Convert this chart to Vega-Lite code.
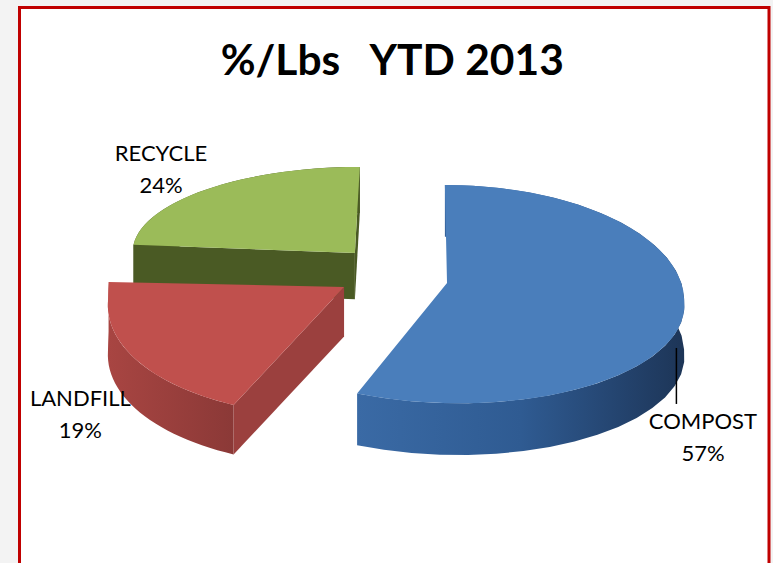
{
  "$schema": "https://vega.github.io/schema/vega-lite/v6.json",
  "autosize": {"type": "fit", "contains": "padding"},
  "width": 773,
  "height": 563,
  "padding": {"left": 19.5, "top": 7.5, "right": 4, "bottom": -2},
  "background": "#f3f3f3",
  "title": {
    "text": "%/Lbs\u00a0\u00a0\u00a0YTD 2013",
    "font": "Lato",
    "fontSize": 42.5,
    "fontWeight": "bold",
    "color": "#000000",
    "anchor": "middle",
    "frame": "group",
    "offset": -76,
    "dx": -2
  },
  "view": {"fill": "#ffffff", "stroke": "#c00000", "strokeWidth": 3},
  "data": {
    "values": [
      {"name": "COMPOST", "value": 57},
      {"name": "LANDFILL", "value": 19},
      {"name": "RECYCLE", "value": 24}
    ]
  },
  "transform": [
    {"stack": "value", "groupby": [], "sort": [{"field": "name", "order": "ascending"}], "as": ["t0", "t1"]},
    {"calculate": "datum.t0 / 100 * 2 * PI", "as": "a0"},
    {"calculate": "datum.t1 / 100 * 2 * PI", "as": "a1"},
    {"calculate": "datum.name == 'COMPOST' ? 0.115 : datum.name == 'LANDFILL' ? -0.323 : -0.277", "as": "cx"},
    {"calculate": "datum.name == 'COMPOST' ? 0.064 : datum.name == 'LANDFILL' ? 0.027 : 0.336", "as": "apexV"},
    {"calculate": "datum.name == 'COMPOST' ? -0.09 : datum.name == 'LANDFILL' ? -0.09 : 0.364", "as": "cy"},
    {"calculate": "datum.name == 'COMPOST' ? 1.009 : datum.name == 'LANDFILL' ? 1.004 : 0.945", "as": "rx"},
    {"calculate": "datum.name == 'COMPOST' ? 1.045 : datum.name == 'LANDFILL' ? 2.6 : 0.755", "as": "ryUp"},
    {"calculate": "datum.name == 'COMPOST' ? 0.94 : datum.name == 'LANDFILL' ? 1.055 : 1", "as": "ryDown"},
    {"calculate": "datum.name == 'COMPOST' ? -0.009 : datum.name == 'RECYCLE' ? 0.021 : 0", "as": "leanUp"},
    {"calculate": "datum.name == 'COMPOST' ? -0.052 : datum.name == 'LANDFILL' ? 0.047 : 0", "as": "leanDown"},
    {"calculate": "datum.name == 'COMPOST' ? 0.47 : datum.name == 'LANDFILL' ? 0.45 : 0.42", "as": "depth"},
    {"calculate": "datum.name == 'COMPOST' ? 1.204 : datum.name == 'LANDFILL' ? -1.445 : -1.102", "as": "labelU"},
    {"calculate": "datum.name == 'COMPOST' ? -1.2 : datum.name == 'LANDFILL' ? -0.987 : 1.24", "as": "labelV"},
    {"calculate": "datum.name + '\\n' + datum.value + '%'", "as": "label"},
    {"calculate": "['top', 'rim', 'cutA', 'cutB']", "as": "part"},
    {"flatten": ["part"]},
    {"calculate": "sequence(0, datum.part == 'top' ? 50 : datum.part == 'rim' ? 62 : 4)", "as": "k"},
    {"flatten": ["k"]},
    {"calculate": "datum.part == 'top' ? datum.a0 + (datum.a1 - datum.a0) * datum.k / 48 : datum.part == 'rim' ? (datum.k <= 30 ? datum.a0 + (datum.a1 - datum.a0) * datum.k / 30 : datum.a1 - (datum.a1 - datum.a0) * (datum.k - 31) / 30) : datum.part == 'cutA' ? datum.a0 : datum.a1", "as": "ang"},
    {"calculate": "datum.part == 'top' ? (datum.k < 49 ? 1 : 0) : datum.part == 'rim' ? 1 : (datum.k == 1 || datum.k == 2 ? 1 : 0)", "as": "r"},
    {"calculate": "datum.part == 'top' ? 0 : datum.part == 'rim' ? (datum.k > 30 ? 1 : 0) : (datum.k >= 2 ? 1 : 0)", "as": "low"},
    {"calculate": "datum.cx + datum.r * (datum.rx * sin(datum.ang) + (cos(datum.ang) >= 0 ? datum.leanUp : datum.leanDown) * cos(datum.ang))", "as": "u"},
    {"calculate": "(datum.r == 0 ? datum.apexV : datum.cy + (cos(datum.ang) >= 0 ? datum.ryUp : datum.ryDown) * cos(datum.ang)) - datum.low * datum.depth", "as": "v"}
  ],
  "encoding": {
    "x": {"field": "u", "type": "quantitative", "axis": null, "scale": {"domain": [-1.704, 1.485], "nice": false, "zero": false}},
    "y": {"field": "v", "type": "quantitative", "axis": null, "scale": {"domain": [-2.5, 2.568], "nice": false, "zero": false}}
  },
  "layer": [
    {
      "transform": [{"filter": "datum.name == 'RECYCLE' && datum.part != 'top'"}],
      "mark": {"type": "line", "filled": true, "fill": "#4a5a24", "strokeWidth": 0},
      "encoding": {"detail": {"field": "part"}, "order": {"field": "k", "type": "quantitative"}}
    },
    {
      "transform": [{"filter": "datum.name == 'RECYCLE' && datum.part == 'top'"}],
      "mark": {"type": "line", "filled": true, "fill": "#9bbb59", "strokeWidth": 0},
      "encoding": {"order": {"field": "k", "type": "quantitative"}}
    },
    {
      "transform": [{"filter": "datum.name == 'LANDFILL' && datum.part == 'rim'"}],
      "mark": {
        "type": "line", "filled": true, "strokeWidth": 0,
        "fill": {"gradient": "linear", "x1": 0, "y1": 0, "x2": 1, "y2": 0, "stops": [
          {"offset": 0, "color": "#a84542"}, {"offset": 1, "color": "#8b3937"}
        ]}
      },
      "encoding": {"order": {"field": "k", "type": "quantitative"}}
    },
    {
      "transform": [{"filter": "datum.name == 'LANDFILL' && datum.part == 'cutA'"}],
      "mark": {"type": "line", "filled": true, "fill": "#9b403e", "strokeWidth": 0},
      "encoding": {"order": {"field": "k", "type": "quantitative"}}
    },
    {
      "transform": [{"filter": "datum.name == 'LANDFILL' && datum.part == 'top'"}],
      "mark": {"type": "line", "filled": true, "fill": "#c0504d", "strokeWidth": 0},
      "encoding": {"order": {"field": "k", "type": "quantitative"}}
    },
    {
      "transform": [{"filter": "datum.name == 'COMPOST' && datum.part == 'rim'"}],
      "mark": {
        "type": "line", "filled": true, "strokeWidth": 0,
        "fill": {"gradient": "linear", "x1": 0, "y1": 0, "x2": 1, "y2": 0, "stops": [
          {"offset": 0, "color": "#3a6aa5"}, {"offset": 0.5, "color": "#2f5b92"}, {"offset": 0.8, "color": "#24446f"}, {"offset": 1, "color": "#1d3557"}
        ]}
      },
      "encoding": {"order": {"field": "k", "type": "quantitative"}}
    },
    {
      "transform": [{"filter": "datum.name == 'COMPOST' && datum.part == 'top'"}],
      "mark": {"type": "line", "filled": true, "fill": "#4a7ebb", "strokeWidth": 0},
      "encoding": {"order": {"field": "k", "type": "quantitative"}}
    },
    {
      "transform": [
        {"filter": "datum.name == 'COMPOST' && datum.part == 'top' && datum.k == 0"},
        {"calculate": "1.091", "as": "leaderU"},
        {"calculate": "-0.527", "as": "leaderTop"},
        {"calculate": "-1.036", "as": "leaderEnd"}
      ],
      "mark": {"type": "rule", "color": "#000000", "strokeWidth": 1.5},
      "encoding": {
        "x": {"field": "leaderU", "type": "quantitative"},
        "y": {"field": "leaderTop", "type": "quantitative"},
        "y2": {"field": "leaderEnd"}
      }
    },
    {
      "transform": [{"filter": "datum.part == 'top' && datum.k == 0"}],
      "mark": {"type": "text", "font": "Lato", "fontSize": 22, "lineBreak": "\n", "lineHeight": 32, "align": "center", "baseline": "middle", "color": "#000000"},
      "encoding": {
        "x": {"field": "labelU", "type": "quantitative"},
        "y": {"field": "labelV", "type": "quantitative"},
        "text": {"field": "label", "type": "nominal"}
      }
    }
  ]
}
